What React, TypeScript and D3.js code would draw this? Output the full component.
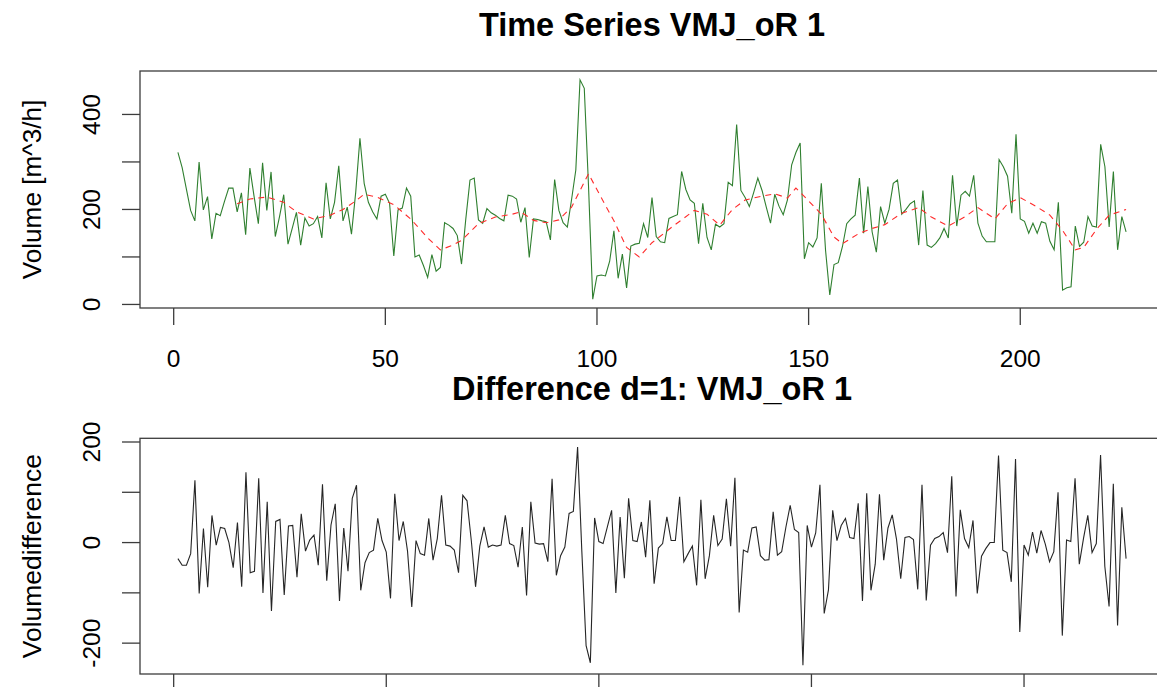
import React from 'react';
import * as d3 from 'd3';

// Time series values (t = 1..225)
const volume = [
  320, 288, 243, 198, 176, 300, 199, 227, 138, 192,
  187, 217, 245, 245, 195, 235, 147, 287, 227, 170,
  298, 198, 279, 143, 185, 231, 127, 160, 194, 125,
  182, 165, 170, 185, 140, 256, 180, 215, 292, 176,
  205, 148, 236, 350, 255, 215, 195, 180, 228, 232,
  213, 102, 199, 203, 245, 228, 100, 104, 82, 57,
  105, 70, 78, 172, 167, 160, 145, 85, 179, 262,
  266, 178, 171, 202, 193, 188, 181, 176, 230, 228,
  222, 173, 204, 99, 180, 179, 176, 174, 136, 263,
  198, 172, 163, 221, 283, 473, 455, 250, 11, 60,
  62, 60, 91, 155, 55, 106, 35, 123, 127, 129,
  170, 141, 225, 143, 132, 130, 181, 185, 189, 280,
  242, 220, 213, 128, 213, 141, 115, 169, 163, 170,
  257, 250, 379, 240, 225, 206, 235, 266, 240, 205,
  171, 232, 207, 189, 220, 294, 320, 340, 96, 130,
  121, 140, 255, 114, 20, 84, 88, 122, 170, 180,
  188, 266, 150, 248, 153, 110, 206, 171, 200, 255,
  262, 190, 200, 212, 218, 125, 240, 125, 120, 128,
  140, 160, 140, 272, 165, 230, 238, 228, 272, 171,
  144, 132, 132, 132, 305, 290, 270, 192, 358, 180,
  175, 150, 171, 150, 174, 171, 133, 115, 215, 30,
  35, 37, 165, 122, 131, 185, 165, 163, 337, 290,
  163, 280, 115, 185, 153,
];

// First differences (index 1..224)
const volumeDiff = [
  -32, -45, -45, -22, 124, -101, 28, -89, 54, -5,
  30, 28, 0, -50, 40, -88, 140, -60, -57, 128,
  -100, 81, -136, 42, 46, -104, 33, 34, -69, 57,
  -17, 5, 15, -45, 116, -76, 35, 77, -116, 29,
  -57, 88, 114, -95, -40, -20, -15, 48, 4, -19,
  -111, 97, 4, 42, -17, -128, 4, -22, -25, 48,
  -35, 8, 94, -5, -7, -15, -60, 94, 83, 4,
  -88, -7, 31, -9, -5, -7, -5, 54, -2, -6,
  -49, 31, -105, 81, -1, -3, -2, -38, 127, -65,
  -26, -9, 58, 62, 190, -18, -205, -239, 49, 2,
  -2, 31, 64, -100, 51, -71, 88, 4, 2, 41,
  -29, 84, -82, -11, -2, 51, 4, 4, 91, -38,
  -22, -7, -85, 85, -72, -26, 54, -6, 7, 87,
  -7, 129, -139, -15, -19, 29, 31, -26, -35, -34,
  61, -25, -18, 31, 74, 26, 20, -244, 34, -9,
  19, 115, -141, -94, 64, 4, 34, 48, 10, 8,
  78, -116, 98, -95, -43, 96, -35, 29, 55, 7,
  -72, 10, 12, 6, -93, 115, -115, -5, 8, 12,
  20, -20, 132, -107, 65, 8, -10, 44, -101, -27,
  -12, 0, 0, 173, -15, -20, -78, 166, -178, -5,
  -25, 21, -21, 24, -3, -38, -18, 100, -185, 5,
  2, 128, -43, 9, 54, -20, -2, 174, -47, -127,
  117, -165, 70, -32,
];

// Smoothed (red dashed) line
const trendTime = [
  15, 18, 22, 26, 29, 33, 37, 40, 43, 45, 48, 52, 56, 60, 63, 66, 68, 72, 76, 80,
  82, 85, 88, 91, 94, 98, 101, 104, 107, 110, 113, 118, 123, 126, 129, 132, 135, 139, 142, 145,
  147, 150, 153, 156, 158, 162, 165, 168, 172, 176, 179, 183, 187, 190, 194, 197, 200, 204, 207, 210,
  213, 215, 218, 221, 225,
];
const trendValue = [
  212, 222, 226, 215, 195, 180, 188, 200, 218, 232, 226, 210, 180, 140, 115, 125, 135, 170, 184, 190,
  195, 177, 172, 178, 205, 275, 225, 176, 120, 100, 130, 165, 198, 190, 167, 200, 220, 228, 233, 224,
  245, 218, 190, 142, 128, 150, 160, 168, 192, 204, 184, 165, 185, 204, 180, 212, 225, 205, 188, 156,
  115, 120, 158, 188, 200,
];

const xTicks = [0, 50, 100, 150, 200];
const topYTicks = [0, 100, 200, 300, 400];
const topYLabels = [0, 200, 400];
const bottomYTicks = [-200, -100, 0, 100, 200];
const bottomYLabels = [-200, 0, 200];

const W = 1157;
const H = 687;
const FONT = "'Liberation Sans', Arial, Helvetica, sans-serif";

function rRange(vals: number[]): [number, number] {
  const [mn, mx] = d3.extent(vals) as [number, number];
  const p = 0.04 * (mx - mn);
  return [mn - p, mx + p];
}

type PanelProps = {
  top: number;
  bottom: number;
  left: number;
  right: number;
  xDomain: [number, number];
  yDomain: [number, number];
  yTicks: number[];
  yLabels: number[];
  showXLabels: boolean;
  title: string;
  titleY: number;
  yTitle: string;
  yTitleSize: number;
  children: (x: d3.ScaleLinear<number, number>, y: d3.ScaleLinear<number, number>) => React.ReactNode;
};

function Panel(p: PanelProps) {
  const x = d3.scaleLinear().domain(p.xDomain).range([p.left, p.right]);
  const y = d3.scaleLinear().domain(p.yDomain).range([p.bottom, p.top]);
  const axisColor = '#3c3c3c';
  const tickLen = 17;
  const cx = (p.left + p.right) / 2;
  const cy = (p.top + p.bottom) / 2;
  return (
    <g>
      <text x={cx} y={p.titleY} textAnchor="middle" fontFamily={FONT} fontWeight="bold" fontSize={32.5} fill="#000">
        {p.title}
      </text>
      {p.children(x, y)}
      <rect x={p.left} y={p.top} width={p.right - p.left} height={p.bottom - p.top} fill="none" stroke={axisColor} strokeWidth={1.3} />
      {xTicks.map((t) => (
        <g key={'xt' + t}>
          <line x1={x(t)} x2={x(t)} y1={p.bottom} y2={p.bottom + tickLen} stroke={axisColor} strokeWidth={1.3} />
          {p.showXLabels && (
            <text x={x(t)} y={p.bottom + 59} textAnchor="middle" fontFamily={FONT} fontSize={24.5} fill="#000">
              {t}
            </text>
          )}
        </g>
      ))}
      {p.yTicks.map((t) => (
        <line key={'yt' + t} x1={p.left - 18} x2={p.left} y1={y(t)} y2={y(t)} stroke={axisColor} strokeWidth={1.3} />
      ))}
      {p.yLabels.map((t) => (
        <text key={'yl' + t} transform={`translate(${p.left - 40},${y(t)}) rotate(-90)`} textAnchor="middle" fontFamily={FONT} fontSize={24.5} fill="#000">
          {t}
        </text>
      ))}
      <text transform={`translate(41,${cy}) rotate(-90)`} textAnchor="middle" fontFamily={FONT} fontSize={p.yTitleSize} fill="#000">
        {p.yTitle}
      </text>
    </g>
  );
}

export default function App() {
  const n = volume.length;
  const xDomTop: [number, number] = [1 - 0.04 * (n - 1), n + 0.04 * (n - 1)];
  const m = volumeDiff.length;
  const xDomBot: [number, number] = [1 - 0.04 * (m - 1), m + 0.04 * (m - 1)];

  return (
    <svg width={W} height={H} viewBox={`0 0 ${W} ${H}`} style={{ position: 'absolute', left: 0, top: 0, display: 'block', background: '#fff', overflow: 'hidden' }}>
      <rect x={0} y={0} width={W} height={H} fill="#fff" />
      <Panel
        top={71}
        bottom={308}
        left={140}
        right={1164}
        xDomain={xDomTop}
        yDomain={rRange(volume)}
        yTicks={topYTicks}
        yLabels={topYLabels}
        showXLabels={true}
        title="Time Series VMJ_oR 1"
        titleY={36}
        yTitle="Volume [m^3/h]"
        yTitleSize={26.2}
      >
        {(x, y) => {
          const line = d3.line<number>().x((_, i) => x(i + 1)).y((d) => y(d));
          const trend = d3.line<number>().x((_, i) => x(trendTime[i])).y((d) => y(d));
          return (
            <g>
              <path d={line(volume) || ''} fill="none" stroke="#2f7f2f" strokeWidth={1.1} />
              <path d={trend(trendValue) || ''} fill="none" stroke="#ff2a2a" strokeWidth={1.1} strokeDasharray="6,5" />
            </g>
          );
        }}
      </Panel>
      <Panel
        top={438.3}
        bottom={674}
        left={140}
        right={1164}
        xDomain={xDomBot}
        yDomain={rRange(volumeDiff)}
        yTicks={bottomYTicks}
        yLabels={bottomYLabels}
        showXLabels={false}
        title="Difference d=1: VMJ_oR 1"
        titleY={400}
        yTitle="Volumedifference"
        yTitleSize={26.5}
      >
        {(x, y) => {
          const line = d3.line<number>().x((_, i) => x(i + 1)).y((d) => y(d));
          return <path d={line(volumeDiff) || ''} fill="none" stroke="#262626" strokeWidth={1.1} />;
        }}
      </Panel>
    </svg>
  );
}
